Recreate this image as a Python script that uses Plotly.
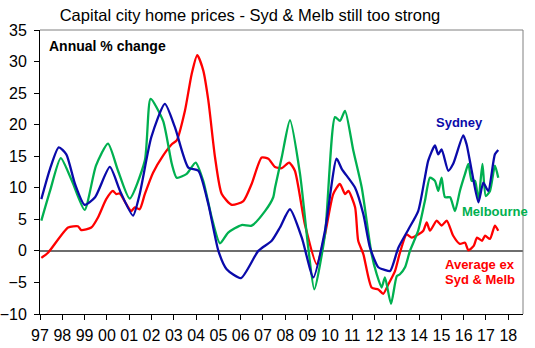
import plotly.graph_objects as go

# ---- data (decimal years, annual % change) ----
syd_x = [1997.06, 1997.45, 1997.84, 1998.18, 1998.57, 1999.0, 1999.47, 2000.13, 2000.59, 2001.17,
         2001.47, 2001.99, 2002.6, 2003.05, 2003.65, 2004.1, 2004.55, 2005.0, 2005.37, 2006.01,
         2006.79, 2007.39, 2007.76, 2008.21, 2008.74, 2009.26, 2009.78, 2010.30, 2010.53, 2011.13,
         2011.5, 2011.80, 2012.17, 2012.45, 2012.70, 2013.07, 2013.52, 2013.96, 2014.26, 2014.41,
         2014.71, 2014.86, 2015.01, 2015.31, 2015.53, 2015.98, 2016.13, 2016.36, 2016.66, 2016.88,
         2017.10, 2017.40, 2017.55]
syd_y = [8.2, 13.0, 16.4, 15.3, 10.6, 7.3, 8.5, 13.3, 9.5, 5.6,
         9.0, 18.0, 23.3, 19.6, 13.2, 12.7, 7.4, 0.0, -2.9, -4.3,
         0.0, 1.6, 3.7, 6.6, 2.1, -4.2, 3.2, 14.6, 13.0, 10.0,
         5.8, 0.5, -2.6, -3.0, -3.2, 0.5, 3.4, 6.3, 11.6, 14.3,
         16.7, 15.3, 16.1, 12.7, 13.8, 18.3, 16.9, 12.7, 7.7, 10.8,
         9.5, 15.3, 16.0]

mel_x = [1997.06, 1997.45, 1997.93, 1998.43, 1999.0, 1999.51, 2000.05, 2000.5, 2001.02, 2001.7,
         2001.96, 2002.52, 2002.91, 2003.13, 2003.58, 2003.98, 2004.32, 2004.70, 2005.07, 2005.44,
         2006.04, 2006.49, 2007.09, 2007.46, 2007.54, 2007.85, 2008.21, 2008.66, 2009.03, 2009.30,
         2009.78, 2010.23, 2010.45, 2010.68, 2011.05, 2011.43, 2011.87, 2012.10, 2012.32, 2012.47,
         2012.74, 2013.0, 2013.14, 2013.37, 2013.59, 2013.96, 2014.26, 2014.49, 2014.71, 2014.86,
         2015.01, 2015.16, 2015.39, 2015.61, 2015.83, 2016.06, 2016.21, 2016.36, 2016.51, 2016.66,
         2016.84, 2016.99, 2017.18, 2017.40, 2017.55]
mel_y = [4.8, 9.5, 14.7, 11.1, 6.5, 13.5, 17.0, 12.7, 8.3, 14.3,
         24.1, 20.6, 13.8, 11.6, 12.2, 14.0, 11.1, 5.3, 1.2, 2.9,
         4.1, 4.0, 6.3, 8.5, 10.0, 15.0, 20.7, 12.2, 0.5, -6.1,
         2.6, 21.2, 20.6, 22.2, 15.9, 10.0, -0.5, -3.7, -5.8, -4.2,
         -8.4, -4.0, -3.7, -2.6, 0.0, 3.2, 7.9, 11.6, 11.1, 9.5,
         11.6, 8.5, 8.5, 6.3, 9.5, 12.2, 13.8, 11.1, 11.1, 7.9,
         13.8, 8.7, 9.5, 13.5, 11.6]

avg_x = [1997.06, 1997.36, 1998.26, 1998.70, 1998.85, 1999.30, 1999.60, 1999.97, 2000.27, 2000.42,
         2000.57, 2000.87, 2001.09, 2001.25, 2001.47, 2001.70, 2002.07, 2002.52, 2002.91, 2003.13,
         2003.50, 2003.80, 2004.05, 2004.32, 2004.55, 2004.85, 2005.15, 2005.60, 2006.12, 2006.49,
         2006.94, 2007.24, 2007.54, 2007.84, 2008.17, 2008.43, 2008.88, 2009.41, 2009.78, 2010.15,
         2010.45, 2010.68, 2010.83, 2011.13, 2011.27, 2011.50, 2011.87, 2012.17, 2012.39, 2012.62,
         2012.92, 2013.14, 2013.44, 2013.67, 2013.96, 2014.19, 2014.34, 2014.49, 2014.79, 2015.01,
         2015.24, 2015.53, 2015.83, 2016.06, 2016.21, 2016.45, 2016.60, 2016.82, 2016.96, 2017.18,
         2017.40, 2017.55]
avg_y = [-1.1, -0.3, 3.7, 3.9, 3.3, 3.7, 5.3, 8.2, 9.5, 9.0,
         9.1, 7.4, 6.3, 6.9, 6.6, 9.0, 12.4, 15.1, 16.9, 17.5,
         22.2, 28.0, 31.0, 28.6, 23.8, 14.8, 9.0, 7.3, 7.9, 10.6,
         14.8, 14.6, 13.3, 13.1, 14.0, 12.7, 4.2, -2.1, 2.6, 9.0,
         10.6, 9.0, 9.5, 6.9, 1.6, -0.5, -5.8, -6.1, -6.8, -5.3,
         -3.2, -0.3, 2.6, 2.1, 2.6, 3.2, 4.5, 3.2, 4.8, 4.0,
         4.8, 2.4, 1.1, 1.3, 0.1, 0.8, 2.1, 1.6, 2.4, 1.9,
         4.0, 3.2]

tick_years = list(range(1997, 2019))
tick_text = [str(y)[2:] for y in tick_years]
y_ticks = list(range(-10, 40, 5))

BLUE = "#0A0AAA"
GREEN = "#00B050"
RED = "#FF0000"
FONT = "Liberation Sans, Arial, sans-serif"

fig = go.Figure()
for xs, ys, col in [(avg_x, avg_y, RED), (mel_x, mel_y, GREEN), (syd_x, syd_y, BLUE)]:
    fig.add_trace(go.Scatter(x=xs, y=ys, mode="lines",
                             line=dict(color=col, width=2.3, shape="spline", smoothing=0.6),
                             hoverinfo="skip", showlegend=False))

fig.update_layout(
    width=535, height=348,
    margin=dict(l=40, r=12, t=30, b=34, autoexpand=False),
    paper_bgcolor="white", plot_bgcolor="white",
    font=dict(family=FONT, color="black", size=16),
    title=dict(text="Capital city home prices - Syd & Melb still too strong",
               x=250 / 535, xanchor="center", xref="container",
               y=1 - 15 / 348, yanchor="middle", yref="container",
               font=dict(size=16.5, family=FONT, color="black")),
    xaxis=dict(range=[1997, 2018.66], tickvals=tick_years, ticktext=tick_text,
               showgrid=False, zeroline=False, showline=True, linecolor="black", linewidth=1,
               ticks="outside", ticklen=5, tickcolor="black", tickfont=dict(size=16),
               ticklabelstandoff=2, automargin=False),
    yaxis=dict(range=[-10, 35], tickvals=y_ticks, showgrid=False,
               zeroline=True, zerolinecolor="#6E6E6E", zerolinewidth=1.5,
               showline=True, linecolor="black", linewidth=1,
               ticks="outside", ticklen=5, tickcolor="black", tickfont=dict(size=16),
               ticklabelstandoff=4, automargin=False),
    shapes=[
        dict(type="line", xref="paper", yref="paper", x0=0, x1=1, y0=1, y1=1,
             line=dict(color="#808080", width=1)),
        dict(type="line", xref="paper", yref="paper", x0=1, x1=1, y0=0, y1=1,
             line=dict(color="#808080", width=1)),
    ],
    annotations=[
        dict(text="<b>Annual % change</b>", xref="paper", yref="paper", x=7 / 483, y=1 - 16 / 284,
             xanchor="left", yanchor="middle", showarrow=False, font=dict(size=14, color="black")),
        dict(text="<b>Sydney</b>", xref="x", yref="y", x=2015.83, y=20.3,
             xanchor="center", yanchor="middle", showarrow=False, font=dict(size=13, color=BLUE)),
        dict(text="<b>Melbourne</b>", xref="x", yref="y", x=2017.40, y=6.2,
             xanchor="center", yanchor="middle", showarrow=False, font=dict(size=13, color=GREEN)),
        dict(text="<b>Average ex</b>", xref="x", yref="y", x=2016.73, y=-2.1,
             xanchor="center", yanchor="middle", showarrow=False, font=dict(size=13, color=RED)),
        dict(text="<b>Syd &amp; Melb</b>", xref="x", yref="y", x=2016.73, y=-4.5,
             xanchor="center", yanchor="middle", showarrow=False, font=dict(size=13, color=RED)),
    ],
)

fig.write_html("out.html")
